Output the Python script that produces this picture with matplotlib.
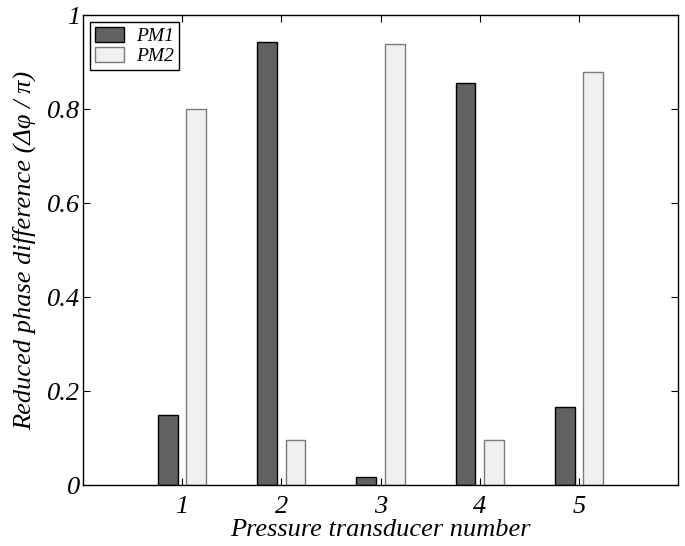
import numpy as np
import matplotlib
matplotlib.use("Agg")
import matplotlib.pyplot as plt

transducers = [1, 2, 3, 4, 5]
pm1 = [0.150, 0.943, 0.016, 0.855, 0.167]
pm2 = [0.800, 0.095, 0.939, 0.095, 0.878]
series_labels = ["PM1", "PM2"]

plt.rcParams["font.family"] = ["Liberation Serif", "DejaVu Serif"]
plt.rcParams["font.style"] = "italic"

fig = plt.figure(figsize=(6.85, 5.46), dpi=100)
ax = fig.add_axes([83 / 685, 1 - 485 / 546, 595 / 685, 470 / 546])

x = np.array(transducers, dtype=float)
ax.bar(x - 0.143, pm1, width=0.2, color="#616161", edgecolor="black", linewidth=1.0,
       label=series_labels[0], zorder=2)
ax.bar(x + 0.143, pm2, width=0.2, color="#f0f0f0", edgecolor="#7a7a7a", linewidth=1.0,
       label=series_labels[1], zorder=2)

ax.set_xlim(0, 6)
ax.set_ylim(0, 1)
ax.set_xticks(transducers)
ax.set_xticklabels([str(t) for t in transducers])
ax.set_yticks([0, 0.2, 0.4, 0.6, 0.8, 1])
ax.set_yticklabels(["0", "0.2", "0.4", "0.6", "0.8", "1"])
ax.tick_params(direction="in", length=5, width=0.8, top=True, right=True,
               labelsize=19)
ax.tick_params(axis="x", pad=8)
ax.tick_params(axis="y", pad=2)
for s in ax.spines.values():
    s.set_linewidth(1.0)

ax.set_xlabel("Pressure transducer number", fontsize=19, labelpad=1)
ax.set_ylabel("Reduced phase difference (Δφ / π)", fontsize=19, labelpad=8)

leg = ax.legend(loc="upper left", prop={"style": "italic", "size": 14}, fancybox=False,
                framealpha=1, edgecolor="black", borderaxespad=0.35, handlelength=1.5,
                handleheight=0.8, labelspacing=0.12, borderpad=0.25, handletextpad=0.65)
leg.get_frame().set_linewidth(1.0)

fig.savefig("out.png", dpi=100)
